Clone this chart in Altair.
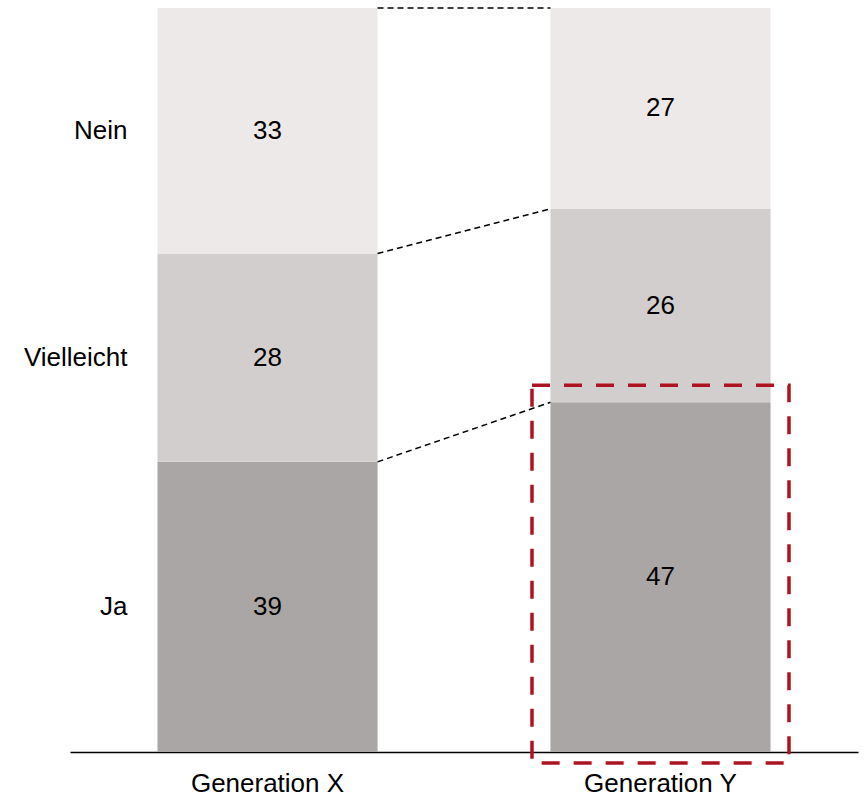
import altair as alt
import pandas as pd

# Survey answers per generation (percent)
generations = ["Generation X", "Generation Y"]
answers = ["Ja", "Vielleicht", "Nein"]
gen_x = [39, 28, 33]
gen_y = [47, 26, 27]
colors = ["#aaa6a5", "#d2cecd", "#ede9e8"]

FONT = "Liberation Sans"
FS = 26

rows = []
tops = {}
for g, vals in zip(generations, [gen_x, gen_y]):
    cum = 0
    tops[g] = []
    for a, v in zip(answers, vals):
        lo, hi = cum, cum + v
        rows.append({"gen": g, "answer": a, "value": v, "lo": lo, "hi": hi, "mid": (lo + hi) / 2})
        tops[g].append(hi)
        cum = hi
df = pd.DataFrame(rows)

# dashed connectors between segment boundaries of the two bars
conn = pd.DataFrame({
    "src": generations[0],
    "dst": generations[1],
    "y1": tops[generations[0]],
    "y2": tops[generations[1]],
})

# highlight around the "Ja" segment of Generation Y
hl = df[(df["gen"] == generations[1]) & (df["answer"] == "Ja")]

x_scale = alt.Scale(domain=generations, paddingInner=0.44, paddingOuter=0.2226)
y_scale = alt.Scale(domain=[0, 100], nice=False, zero=True)
x_axis = alt.Axis(title=None, labelAngle=0, ticks=False, domainColor="black",
                  domainWidth=1.5, labelFont=FONT, labelFontSize=FS,
                  labelColor="black", labelPadding=18, grid=False)

bars = alt.Chart(df).mark_bar().encode(
    x=alt.X("gen:N", scale=x_scale, axis=x_axis),
    y=alt.Y("lo:Q", scale=y_scale, axis=None),
    y2="hi:Q",
    color=alt.Color("answer:N", scale=alt.Scale(domain=answers, range=colors), legend=None),
)

values = alt.Chart(df).mark_text(font=FONT, fontSize=FS, color="black", baseline="middle").encode(
    x=alt.X("gen:N", scale=x_scale, axis=x_axis),
    y=alt.Y("mid:Q", scale=y_scale, axis=None),
    text="value:Q",
)

row_labels = alt.Chart(df[df["gen"] == generations[0]]).mark_text(
    font=FONT, fontSize=FS, color="black", baseline="middle", align="right", xOffset=-30
).encode(
    x=alt.X("gen:N", scale=x_scale, axis=x_axis, bandPosition=0),
    y=alt.Y("mid:Q", scale=y_scale, axis=None),
    text="answer:N",
)

links = alt.Chart(conn).mark_rule(strokeDash=[6, 4], strokeWidth=1.5, color="black").encode(
    x=alt.X("src:N", scale=x_scale, axis=x_axis, bandPosition=1),
    x2=alt.X2("dst:N", bandPosition=0),
    y=alt.Y("y1:Q", scale=y_scale, axis=None),
    y2="y2:Q",
)

highlight = alt.Chart(hl).mark_bar(
    width=257, fill="white", fillOpacity=0, stroke="#ae1420", strokeWidth=3.5,
    strokeDash=[18, 14], yOffset=-17, y2Offset=11
).encode(
    x=alt.X("gen:N", scale=x_scale, axis=x_axis),
    y=alt.Y("hi:Q", scale=y_scale, axis=None),
    y2="lo:Q",
)

chart = alt.layer(bars, links, values, row_labels, highlight).properties(
    width=788, height=744,
    padding={"left": 70, "top": 8, "right": 6, "bottom": 42},
    autosize=alt.AutoSizeParams(type="none"),
).configure_view(stroke=None)

chart.save("out.html", embed_options={"renderer": "svg", "actions": False})
